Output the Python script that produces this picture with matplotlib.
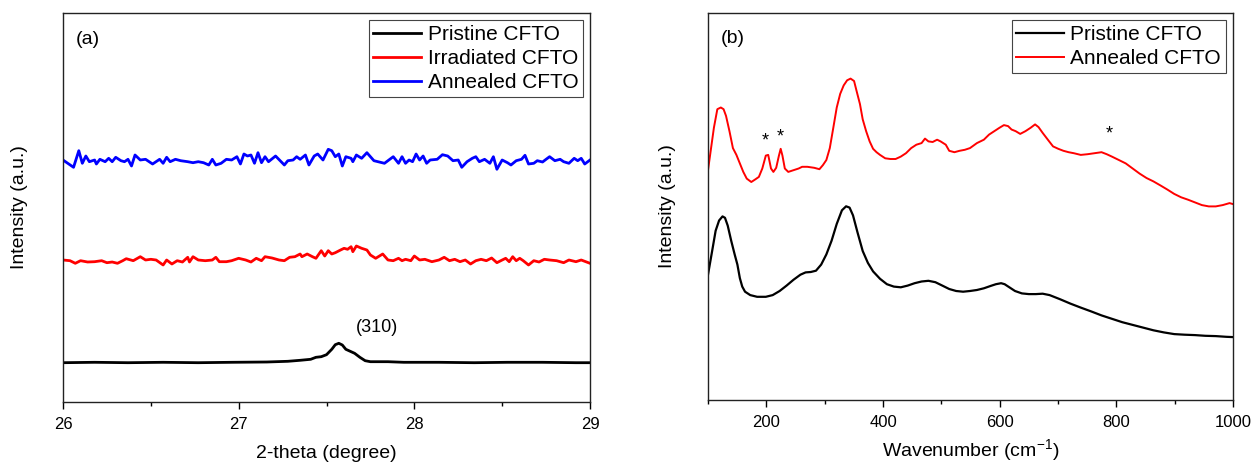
import numpy as np
import matplotlib
matplotlib.use('Agg')
import matplotlib.pyplot as plt

plt.rcParams['font.family'] = ['Liberation Sans', 'DejaVu Sans']

# ---- panel (a): XRD, 2-theta in degrees, intensity in a.u.
xrd_blue_x = [26.00, 26.06, 26.09, 26.11, 26.13, 26.15, 26.18, 26.19, 26.21, 26.24, 26.26, 26.28, 26.30, 26.33,
              26.35, 26.37, 26.39, 26.41, 26.44, 26.47, 26.51, 26.55, 26.57, 26.59, 26.61, 26.64, 26.67, 26.71,
              26.74, 26.77, 26.80, 26.83, 26.85, 26.87, 26.90, 26.93, 26.96, 26.99, 27.01, 27.03, 27.05, 27.07,
              27.09, 27.11, 27.13, 27.15, 27.17, 27.21, 27.26, 27.28, 27.31, 27.33, 27.35, 27.38, 27.40, 27.43,
              27.45, 27.48, 27.51, 27.53, 27.55, 27.57, 27.59, 27.61, 27.64, 27.65, 27.67, 27.70, 27.73, 27.77,
              27.83, 27.88, 27.91, 27.93, 27.95, 27.97, 27.99, 28.01, 28.03, 28.05, 28.07, 28.09, 28.13, 28.16,
              28.19, 28.22, 28.25, 28.27, 28.30, 28.33, 28.35, 28.37, 28.40, 28.43, 28.45, 28.47, 28.50, 28.53,
              28.55, 28.58, 28.61, 28.63, 28.65, 28.68, 28.70, 28.73, 28.75, 28.77, 28.80, 28.83, 28.85, 28.88,
              28.91, 28.93, 28.95, 28.97, 29.00]
xrd_blue_y = [242, 234.7, 251.3, 238.7, 246, 240.3, 242, 238, 242.7, 240.3, 243.7, 240.3, 244.7, 241.3,
              240.3, 242.7, 236, 247, 242, 242.7, 238, 242.7, 238.7, 244.7, 240.3, 242.7, 241.3, 240.3,
              239.3, 240.3, 239.3, 237, 242.7, 237, 238.7, 242.7, 242, 245.3, 238, 248, 246, 247,
              238.7, 249.3, 239.3, 245.3, 240.3, 246, 237, 241.3, 242, 245.3, 242.7, 247, 237, 246,
              248, 242, 252.7, 251.3, 245.3, 248, 236, 245.3, 243.7, 240.3, 247, 243.7, 249.3, 241.3,
              238.7, 245.3, 238.7, 245.3, 238.7, 242, 240.3, 248, 242, 246, 238.7, 242, 242.7, 247.3,
              246, 241.3, 242, 234.7, 240.3, 243.7, 245.3, 240.3, 242.7, 238.7, 245.3, 232.7, 242, 239.3,
              237, 241.3, 242.7, 246.7, 238, 238.7, 241.3, 240, 242.7, 245.3, 241.3, 242.7, 240.3, 238.7,
              243.7, 241.3, 243.7, 238, 242]

xrd_red_x = [26.00, 26.04, 26.07, 26.10, 26.14, 26.18, 26.22, 26.25, 26.28, 26.31, 26.34, 26.36, 26.40, 26.44,
             26.47, 26.50, 26.53, 26.57, 26.59, 26.62, 26.65, 26.68, 26.71, 26.72, 26.74, 26.77, 26.81, 26.85,
             26.87, 26.89, 26.93, 26.96, 27.00, 27.04, 27.07, 27.10, 27.13, 27.15, 27.19, 27.23, 27.26, 27.29,
             27.32, 27.35, 27.36, 27.39, 27.42, 27.44, 27.47, 27.49, 27.51, 27.53, 27.55, 27.58, 27.60, 27.62,
             27.64, 27.65, 27.67, 27.70, 27.73, 27.75, 27.78, 27.82, 27.85, 27.88, 27.91, 27.93, 27.95, 27.98,
             28.00, 28.03, 28.06, 28.10, 28.14, 28.17, 28.20, 28.23, 28.26, 28.29, 28.32, 28.35, 28.38, 28.41,
             28.44, 28.47, 28.50, 28.52, 28.54, 28.56, 28.58, 28.60, 28.62, 28.65, 28.68, 28.71, 28.74, 28.77,
             28.81, 28.85, 28.88, 28.92, 28.95, 29.00]
xrd_red_y = [142, 141.3, 138.7, 141.3, 140, 140.3, 141.3, 139.3, 140, 138.7, 141.3, 143.3, 141.3, 145.3,
             142, 142.7, 142, 137, 142, 138, 141.3, 140, 144.7, 140, 145.3, 142, 141.3, 142,
             144.7, 140.3, 140.3, 141.3, 143.7, 142, 140, 143.7, 141.3, 145.3, 144, 142, 141.3, 144.7,
             145.3, 148, 145.3, 148, 145.3, 143.7, 151.3, 146, 151.3, 148, 149.3, 152, 153.7, 152.7,
             155.3, 150.3, 156, 153.7, 152, 147, 143.7, 148, 142, 141.3, 143.7, 141.3, 142.7, 141.3,
             146, 142, 142.7, 140.3, 142, 144.7, 141.3, 142.7, 140.3, 142, 138, 141.3, 142.7, 141.3,
             144, 139.3, 142, 143.7, 140.3, 145.3, 141.3, 143.7, 141.3, 137, 141.3, 140, 142.7, 142,
             141.3, 139.3, 142, 140.3, 142, 138.7]

xrd_black_x = [26.00, 26.18, 26.37, 26.57, 26.77, 26.96, 27.16, 27.28, 27.35, 27.41, 27.44, 27.47, 27.50, 27.53,
               27.55, 27.57, 27.59, 27.61, 27.64, 27.66, 27.69, 27.72, 27.75, 27.85, 27.94, 28.14, 28.34, 28.53,
               28.73, 28.92, 29.00]
xrd_black_y = [39.3, 39.7, 39.3, 39.7, 39.3, 39.7, 40, 40.7, 41.7, 42.7, 44.7, 45.3, 47.3, 52.7,
               57.3, 58.7, 57, 52.7, 50.3, 48.7, 44.7, 41.3, 40.3, 40.3, 39.7, 39.7, 39.3, 39.7,
               39.7, 39.3, 39.3]

# ---- panel (b): Raman, wavenumber in cm-1
raman_red_x = [100, 110.1, 116.0, 122.0, 126.7, 130.9, 136.8, 142.7, 148.7, 154.6, 160.5, 166.4, 174.2, 181.3,
               187.2, 193.1, 199.1, 203.2, 208.0, 212.1, 216.9, 221.6, 224.6, 227.6, 231.7, 237.6, 246.5, 255.4,
               261.4, 270.3, 282.1, 291.0, 297.0, 302.9, 308.8, 314.8, 320.7, 326.6, 332.6, 338.5, 344.4, 350.4,
               354.5, 360.5, 365.2, 371.1, 377.1, 383.0, 388.9, 394.9, 403.8, 412.7, 421.6, 430.5, 439.4, 448.3,
               457.2, 466.1, 472.0, 477.9, 485.1, 492.8, 498.7, 507.6, 513.5, 522.4, 531.3, 540.2, 549.1, 561.0,
               572.9, 581.8, 590.7, 599.6, 607.3, 614.4, 620.3, 627.5, 635.2, 644.1, 653.0, 660.7, 666.6, 673.7,
               682.6, 691.5, 700.4, 709.3, 718.2, 727.1, 739.0, 750.8, 762.7, 774.6, 783.5, 792.4, 804.3, 816.1,
               828.0, 839.9, 851.7, 863.6, 875.5, 887.3, 899.2, 911.1, 922.9, 934.8, 946.7, 958.5, 970.4, 982.3,
               994.1, 1000]
raman_red_y = [229.8, 272.2, 290.8, 292.5, 290.8, 284.1, 268.8, 251.9, 245.1, 236.6, 228.1, 221.4, 218, 220.7,
               223.1, 231.5, 244.4, 245.1, 231.5, 228.1, 232.2, 244.4, 251.2, 244.4, 231.5, 228.1, 229.8, 231.5,
               233.2, 233.2, 232.2, 230.8, 234.9, 240, 251.9, 272.2, 292.5, 306.1, 314.6, 319.7, 321.4, 319,
               309.5, 295.9, 280.7, 268.8, 258.6, 251.2, 247.8, 245.1, 241.7, 241, 241, 243.4, 246.8, 251.9,
               255.3, 256.9, 261.4, 258.6, 258, 260.3, 258.6, 255.3, 249.2, 247.8, 249.2, 250.2, 251.9, 256.9,
               260.3, 265.4, 268.8, 272.2, 274.9, 273.9, 270.5, 268.8, 266.1, 268.8, 272.2, 275.6, 272.9, 267.1,
               260.3, 253.6, 251.2, 249.2, 247.8, 246.8, 245.1, 245.8, 246.8, 247.8, 245.8, 243.4, 240, 236.6,
               231.5, 226.4, 222, 218.6, 214.6, 210.5, 206.1, 202.7, 200.3, 197.6, 194.9, 193.6, 193.6, 194.9,
               196.9, 195.9]

raman_black_x = [100, 107.1, 113.1, 119.0, 124.9, 129.1, 133.8, 139.8, 145.7, 150.4, 154.6, 158.7, 163.5, 172.4,
                 184.2, 199.1, 210.9, 222.8, 234.7, 246.5, 258.4, 267.3, 276.2, 285.1, 294.0, 302.9, 311.8, 320.7,
                 329.6, 336.7, 342.7, 348.6, 356.3, 365.2, 374.1, 383.0, 394.9, 406.7, 418.6, 430.5, 442.3, 454.2,
                 466.1, 477.9, 489.8, 501.7, 513.5, 525.4, 537.3, 549.1, 561.0, 572.9, 584.7, 593.6, 602.5, 608.5,
                 617.4, 626.3, 638.1, 650.0, 661.9, 673.7, 685.6, 703.4, 721.2, 739.0, 756.8, 774.6, 792.4, 810.2,
                 828.0, 845.8, 863.6, 881.4, 899.2, 917.0, 934.8, 952.6, 970.4, 988.2, 1000]
raman_black_y = [125.3, 149, 169.3, 179.5, 183.6, 182.2, 174.4, 159.2, 145.6, 135.4, 121.9, 113.4, 108.3, 104.9,
                 103.2, 103.2, 104.9, 109, 114.4, 120.2, 125.3, 127.6, 128, 129.3, 135.4, 145.6, 159.2, 176.1,
                 189.7, 193.7, 192.4, 184.6, 167.6, 149, 137.1, 128.6, 121.2, 115.8, 113.4, 112.7, 114.4, 116.8,
                 118.5, 119.2, 117.8, 114.4, 111, 109, 108.3, 109, 110, 111.7, 114.1, 115.8, 116.8, 115.8,
                 112.4, 109, 106.6, 105.9, 105.9, 106.3, 104.9, 100.8, 96.4, 92.4, 88.6, 84.6, 81.2, 77.8,
                 75.1, 72.4, 69.7, 67.6, 65.9, 65.3, 64.9, 64.2, 63.9, 63.2, 62.9]

star_x = [199, 224, 788]
star_y = [259, 263, 266]

fig = plt.figure(figsize=(12.53, 4.65), dpi=100)
ax1 = fig.add_axes([63/1253, 63/465, 527/1253, 389/465])
ax2 = fig.add_axes([708/1253, 65/465, 525/1253, 387/465])

ax1.plot(xrd_black_x, xrd_black_y, color='black', lw=2.0, label='Pristine CFTO')
ax1.plot(xrd_red_x, xrd_red_y, color='red', lw=2.0, label='Irradiated CFTO')
ax1.plot(xrd_blue_x, xrd_blue_y, color='blue', lw=2.0, label='Annealed CFTO')
ax1.text(27.79, 75, '(310)', fontsize=13, ha='center', va='center')
ax1.text(0.025, 0.955, '(a)', transform=ax1.transAxes, fontsize=14, va='top')
ax1.set_xlim(26, 29)
ax1.set_ylim(0, 389)
ax1.set_xticks([26, 27, 28, 29])
ax1.set_xticks([26.5, 27.5, 28.5], minor=True)
ax1.set_xlabel('2-theta (degree)', fontsize=14, labelpad=9)
ax1.set_ylabel('Intensity (a.u.)', fontsize=14, labelpad=25)

ax2.plot(raman_black_x, raman_black_y, color='black', lw=1.6, label='Pristine CFTO')
ax2.plot(raman_red_x, raman_red_y, color='red', lw=1.4, label='Annealed CFTO')
for sx, sy in zip(star_x, star_y):
    ax2.text(sx, sy, '*', fontsize=13, ha='center', va='center')
ax2.text(0.025, 0.955, '(b)', transform=ax2.transAxes, fontsize=14, va='top')
ax2.set_xlim(100, 1000)
ax2.set_ylim(0, 387)
ax2.set_xticks([200, 400, 600, 800, 1000])
ax2.set_xticks([100, 300, 500, 700, 900], minor=True)
ax2.set_xlabel('Wavenumber (cm$^{\\mathregular{-1}}$)', fontsize=14, labelpad=5)
ax2.set_ylabel('Intensity (a.u.)', fontsize=14, labelpad=23)

for ax in (ax1, ax2):
    ax.set_yticks([])
    ax.tick_params(axis='x', which='major', direction='out', length=5, width=1, labelsize=12, pad=6)
    ax.tick_params(axis='x', which='minor', direction='out', length=3, width=1)
    for s in ax.spines.values():
        s.set_linewidth(1.0)
        s.set_color('#222222')
    leg = ax.legend(loc='upper right', fontsize=15, frameon=True, fancybox=False, framealpha=1,
                    edgecolor='#444444', handlelength=2.3, labelspacing=0.25, borderpad=0.22,
                    handletextpad=0.3, borderaxespad=0.35)
    leg.get_frame().set_linewidth(0.8)

fig.savefig('out.png', dpi=100)
